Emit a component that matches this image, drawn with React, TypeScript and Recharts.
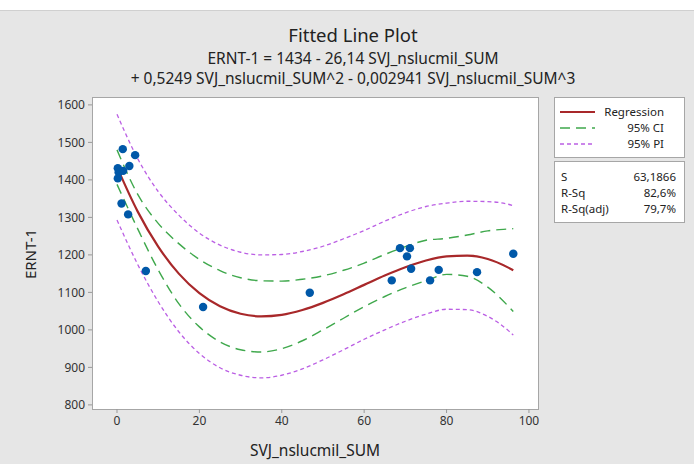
import React from "react";
import { ComposedChart, Line, Scatter, XAxis, YAxis, ZAxis } from "recharts";

// observed points
const obsX = [0.2, 0.4, 1.5, 0.2, 3.0, 1.4, 4.4, 1.1, 2.7, 7.0, 20.9, 46.8, 66.7, 68.7, 71.1, 70.4, 71.4, 76.0, 78.1, 87.4, 96.2];
const obsY = [1431, 1420, 1424, 1404, 1437, 1482, 1466, 1337, 1308, 1157, 1061, 1099, 1132, 1218, 1218, 1196, 1163, 1132, 1160, 1154, 1203];

// fitted curve and bands, read along the x axis
const fitX = [0, 5, 10, 15, 20, 25, 30, 35, 40, 45, 50, 55, 60, 65, 70, 75, 80, 85, 90, 95, 96.2];
const fitY = [1434, 1316, 1222, 1150, 1098, 1063, 1043, 1036, 1040, 1053, 1072, 1095, 1120, 1145, 1167, 1185, 1196, 1198, 1189, 1166, 1159];
const ciHigh = [1480, 1362, 1284, 1230, 1188, 1158, 1139, 1131, 1130, 1135, 1144, 1159, 1178, 1201, 1222, 1239, 1244, 1253, 1264, 1269, 1270];
const ciLow = [1388, 1270, 1160, 1070, 1008, 968, 947, 941, 950, 971, 1000, 1031, 1062, 1089, 1112, 1131, 1148, 1143, 1114, 1063, 1049];
const piHigh = [1575, 1457, 1369, 1306, 1258, 1226, 1207, 1200, 1201, 1209, 1223, 1243, 1265, 1290, 1312, 1329, 1338, 1343, 1342, 1335, 1331];
const piLow = [1293, 1175, 1075, 995, 937, 899, 879, 872, 879, 896, 920, 947, 975, 1000, 1023, 1042, 1055, 1054, 1036, 998, 986];

const xTicks = [0, 20, 40, 60, 80, 100];
const yTicks = [800, 900, 1000, 1100, 1200, 1300, 1400, 1500, 1600];

const statNames = ["S", "R-Sq", "R-Sq(adj)"];
const statValues = ["63,1866", "82,6%", "79,7%"];

const toRows = (xs: number[], ys: number[]) => xs.map((x, i) => ({ x, y: ys[i] }));

const RED = "#a8282a";
const GREEN = "#3fa84c";
const PURPLE = "#bb5fe4";
const FONT = "'Noto Sans', 'Open Sans', sans-serif";

export default function App() {
  const tick = { fontSize: 12, fill: "#333", fontFamily: FONT };
  return (
    <div style={{ position: "absolute", left: 0, top: 0, width: 694, height: 464, background: "#e6e6e6", fontFamily: FONT, color: "#222" }}>
      <div style={{ position: "absolute", left: 0, top: 0, width: 694, height: 10, background: "#fff", borderBottom: "1px solid #d0d0d0" }} />
      <div style={{ position: "absolute", left: 0, width: 706, top: 22, textAlign: "center", fontSize: 18.5, lineHeight: "26px" }}>Fitted Line Plot</div>
      <div style={{ position: "absolute", left: 0, width: 706, top: 48, textAlign: "center", fontSize: 15.5, lineHeight: "20px" }}>
        ERNT-1 = 1434 - 26,14 SVJ_nslucmil_SUM
        <br />+ 0,5249 SVJ_nslucmil_SUM^2 - 0,002941 SVJ_nslucmil_SUM^3
      </div>
      <div style={{ position: "absolute", left: 92, top: 97, width: 447, height: 313, background: "#fff", border: "1px solid #a6a6a6", boxSizing: "border-box" }} />
      <ComposedChart width={694} height={464} margin={{ top: 97, right: 156, bottom: 25, left: 32 }} style={{ position: "absolute", left: 0, top: 0 }}>
        <XAxis type="number" dataKey="x" domain={[-6.07, 102.2]} ticks={xTicks} allowDataOverflow height={30}
          tick={tick} tickSize={4} tickMargin={3} axisLine={false} tickLine={{ stroke: "#999" }} />
        <YAxis type="number" dataKey="y" domain={[789, 1621]} ticks={yTicks} allowDataOverflow width={60}
          tick={tick} tickSize={4} tickMargin={3} axisLine={false} tickLine={{ stroke: "#999" }} />
        <ZAxis range={[56, 56]} />
        <Line data={toRows(fitX, piHigh)} dataKey="y" type="monotone" stroke={PURPLE} strokeWidth={1.3} strokeDasharray="4 3" dot={false} isAnimationActive={false} />
        <Line data={toRows(fitX, piLow)} dataKey="y" type="monotone" stroke={PURPLE} strokeWidth={1.3} strokeDasharray="4 3" dot={false} isAnimationActive={false} />
        <Line data={toRows(fitX, ciHigh)} dataKey="y" type="monotone" stroke={GREEN} strokeWidth={1.4} strokeDasharray="10 6" dot={false} isAnimationActive={false} />
        <Line data={toRows(fitX, ciLow)} dataKey="y" type="monotone" stroke={GREEN} strokeWidth={1.4} strokeDasharray="10 6" dot={false} isAnimationActive={false} />
        <Line data={toRows(fitX, fitY)} dataKey="y" type="monotone" stroke={RED} strokeWidth={2.2} dot={false} isAnimationActive={false} />
        <Scatter data={toRows(obsX, obsY)} dataKey="y" fill="#0058a8" isAnimationActive={false} />
      </ComposedChart>
      <div style={{ position: "absolute", left: 30, top: 254, transform: "translate(-50%, -50%) rotate(-90deg)", fontSize: 15, whiteSpace: "nowrap" }}>ERNT-1</div>
      <div style={{ position: "absolute", left: 315, top: 450, transform: "translate(-50%, -50%)", fontSize: 15.5, whiteSpace: "nowrap" }}>SVJ_nslucmil_SUM</div>
      <div style={{ position: "absolute", left: 554, top: 97, width: 131, height: 61, background: "#fff", border: "1px solid #a6a6a6", boxSizing: "border-box", fontSize: 11.5 }}>
        <svg width={131} height={61} style={{ position: "absolute", left: -1, top: -1 }}>
          <line x1={6} x2={41} y1={15} y2={15} stroke={RED} strokeWidth={2.2} />
          <line x1={6} x2={41} y1={31} y2={31} stroke={GREEN} strokeWidth={1.4} strokeDasharray="10 6" />
          <line x1={6} x2={41} y1={47} y2={47} stroke={PURPLE} strokeWidth={1.3} strokeDasharray="4 3" />
        </svg>
        <div style={{ position: "absolute", right: 20, top: 6, lineHeight: "16px", textAlign: "right" }}>
          Regression<br />95% CI<br />95% PI
        </div>
      </div>
      <div style={{ position: "absolute", left: 554, top: 161, width: 131, height: 62, background: "#fff", border: "1px solid #a6a6a6", boxSizing: "border-box", fontSize: 11.5 }}>
        {statNames.map((n, i) => (
          <div key={n} style={{ position: "absolute", left: 6, right: 8, top: 7 + i * 16, lineHeight: "16px", display: "flex", justifyContent: "space-between" }}>
            <span>{n}</span>
            <span>{statValues[i]}</span>
          </div>
        ))}
      </div>
    </div>
  );
}
